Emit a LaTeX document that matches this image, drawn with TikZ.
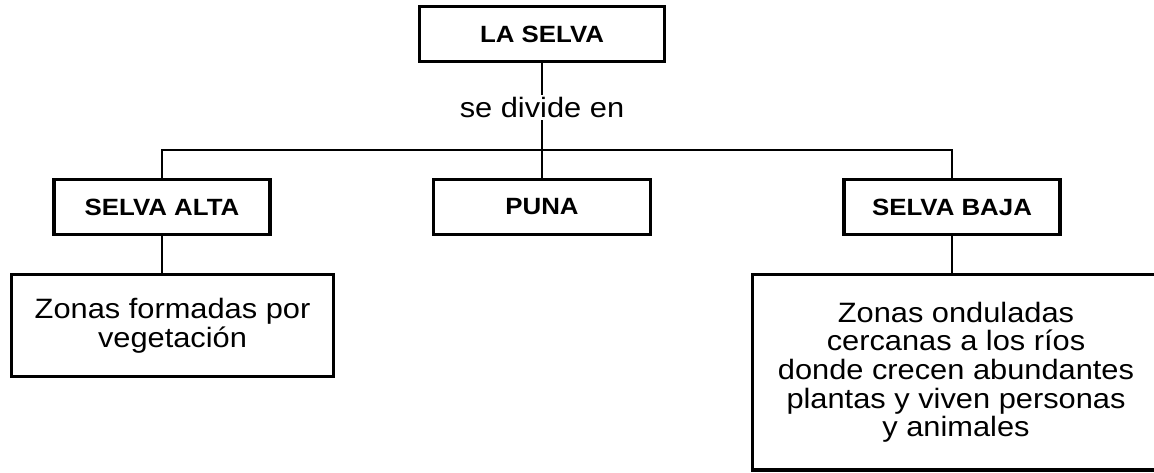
\documentclass[tikz,border=0pt]{standalone}
\usepackage{fontspec}
\setmainfont{Liberation Sans}[FakeStretch=1.1]
\usetikzlibrary{positioning}

\begin{document}
\begin{tikzpicture}[x=1pt,y=-1pt,
                    main node/.style={rectangle,draw,line width=3.3pt,outer sep=0pt,minimum height=55pt,
                                      font=\fontsize{23.5}{27}\selectfont\bfseries},
                    desc node/.style={rectangle,draw,line width=3.3pt,outer sep=0pt,align=center,
                                      font=\fontsize{28}{28.7}\selectfont},
                    conn/.style={line width=2.7pt}]
      \useasboundingbox (0,0) rectangle (1154,472);

      \node[main node, minimum width=245pt] (1) at (542,34) {LA SELVA};
      \node[main node, minimum width=217pt] (3) [below=118pt of 1] {PUNA};
      \node[main node, minimum width=216pt] (2) [left=163.5pt of 3] {SELVA ALTA};
      \node[main node, minimum width=216pt] (4) [right=193.5pt of 3] {SELVA BAJA};

      \node[desc node, minimum width=322pt, minimum height=102pt] (5)
           [below=40pt of 2, xshift=10.5pt] {Zonas formadas por\\vegetación};
      \node[desc node, minimum width=407.5pt, minimum height=195.5pt] (6)
           [below=40pt of 4, xshift=4pt] {Zonas onduladas\\cercanas a los ríos\\donde crecen abundantes\\plantas y viven personas\\y animales};

      \coordinate (s) at (542,150);

      \path[conn]
	(1) edge node[fill=white, inner sep=2pt, font=\fontsize{28}{28.7}\selectfont, pos=0.52] {se divide en} (s)
	(s) edge (3);
      \draw[conn] (2.north) |- (s) -| (4.north);
      \draw[conn] (2.south) -- (2.south |- 5.north);
      \draw[conn] (4.south) -- (4.south |- 6.north);

    \end{tikzpicture}
\end{document}
